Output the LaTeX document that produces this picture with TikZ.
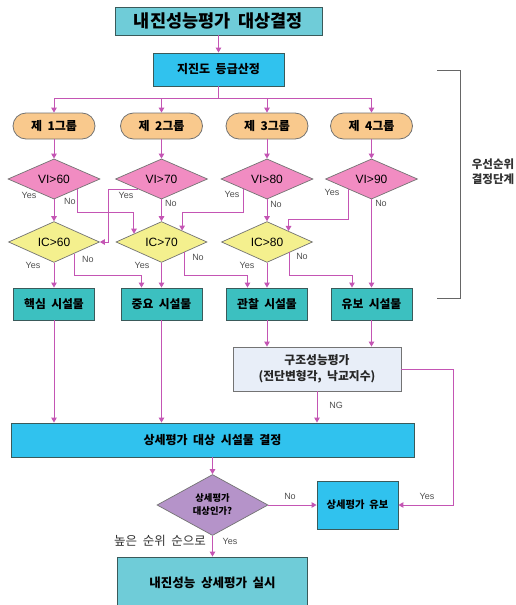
\documentclass[tikz,border=0pt]{standalone}
\usepackage{fontspec}
\setmainfont{Noto Sans CJK KR}
\newfontfamily\latin{Liberation Sans}
\usetikzlibrary{shapes.geometric,arrows.meta,calc}
\definecolor{lnk}{HTML}{C455B4}
\definecolor{teal1}{HTML}{3CC0C0}
\definecolor{teal2}{HTML}{6FCCD8}
\definecolor{sky}{HTML}{30C2EE}
\definecolor{orng}{HTML}{F9C98D}
\definecolor{pnk}{HTML}{F18CC2}
\definecolor{ylw}{HTML}{F4F08E}
\definecolor{prp}{HTML}{B593C9}
\definecolor{lgt}{HTML}{E8EEF8}
\definecolor{bord}{HTML}{3A5A5A}
\definecolor{lblc}{HTML}{505050}
\tikzset{
  box/.style={draw=bord,line width=0.9pt,inner sep=0pt,align=center,font=\bfseries},
  tealbox/.style={box,fill=teal1,minimum width=81pt,minimum height=32pt,font=\bfseries\fontsize{11.8}{13}\selectfont},
  grp/.style={draw=black!55,line width=0.8pt,fill=orng,rounded corners=13pt,minimum width=82pt,minimum height=26pt,inner sep=0pt,font=\bfseries\fontsize{12}{13}\selectfont},
  dia/.style={diamond,draw=black!55,line width=0.7pt,inner sep=0pt,font=\latin\fontsize{12}{14}\selectfont},
  vid/.style={dia,fill=pnk,minimum width=92pt,minimum height=38pt},
  icd/.style={dia,fill=ylw,minimum width=91pt,minimum height=39pt},
  arr/.style={draw=lnk,line width=1pt,-{Triangle[width=5.5pt,length=5pt]}},
  lbl/.style={text=lblc,font=\latin\fontsize{9}{10}\selectfont,inner sep=0pt},
}
\begin{document}
\begin{tikzpicture}[x=1pt,y=-1pt]
\useasboundingbox (0,0) rectangle (516,605);
\fill[white] (0,0) rectangle (516,605);
% top
\node[box,fill=teal2,minimum width=207pt,minimum height=28pt,font=\bfseries\fontsize{17.5}{19}\selectfont] (top) at (218.5,21) {내진성능평가~~대상결정};
\node[box,fill=sky,minimum width=131pt,minimum height=33pt,font=\bfseries\fontsize{12}{14}\selectfont] (grade) at (218.5,69.5) {지진도~~등급산정};
\draw[arr] (top.south) -- (grade.north);
% groups
\node[grp] (g1) at (54,126) {제~~1그룹};
\node[grp] (g2) at (161.5,126) {제~~2그룹};
\node[grp] (g3) at (267,126) {제~~3그룹};
\node[grp] (g4) at (371.5,126) {제~~4그룹};
\coordinate (bus) at (218.5,98);
\foreach \g in {g1,g2,g3,g4}{\draw[arr] (grade.south) -- (bus) -| (\g.north);}
% VI diamonds
\node[vid] (v1) at (54,179) {VI>60};
\node[vid] (v2) at (161.5,179) {VI>70};
\node[vid] (v3) at (267,179) {VI>80};
\node[vid] (v4) at (371.5,179) {VI>90};
\foreach \i in {1,2,3,4}{\draw[arr] (g\i.south) -- (v\i.north);}
% IC diamonds
\node[icd] (c1) at (54,242) {IC>60};
\node[icd] (c2) at (161.5,242) {IC>70};
\node[icd] (c3) at (267,242) {IC>80};
% facilities
\node[tealbox] (f1) at (54,304) {핵심~~시설물};
\node[tealbox] (f2) at (161.5,304) {중요~~시설물};
\node[tealbox] (f3) at (267,304) {관찰~~시설물};
\node[tealbox] (f4) at (371.5,304) {유보~~시설물};
\coordinate (r1) at (0,212);
\coordinate (r2) at (0,219);
\coordinate (r3) at (0,275);
% VI connectors
\draw[arr] (v1.south) -- (c1.north);
\coordinate (a1) at ($(v1.east)!0.5!(v1.south)$);
\draw[arr] (a1) -- (a1 |- r1) -| ($(c2.west)!0.4!(c2.north)$);
\coordinate (a2) at ($(v2.west)!0.5!(v2.south)$);
\draw[arr] (a2) -| ($(c1.east)+(9,0)$) -- (c1.east);
\draw[arr] (v2.south) -- (c2.north);
\coordinate (a3) at ($(v3.west)!0.5!(v3.south)$);
\draw[arr] (a3) -- (a3 |- r1) -| ($(c2.north)!0.45!(c2.east)$);
\draw[arr] (v3.south) -- (c3.north);
\coordinate (a4) at ($(v4.west)!0.5!(v4.south)$);
\draw[arr] (a4) -- (a4 |- r2) -| ($(c3.north)!0.47!(c3.east)$);
\draw[arr] (v4.south) -- (f4.north);
% IC connectors
\draw[arr] (c1.south) -- (f1.north);
\coordinate (b1) at ($(c1.east)!0.56!(c1.south)$);
\draw[arr] (b1) -- (b1 |- r3) -| ($(f2.north)+(-20,0)$);
\draw[arr] (c2.south) -- (f2.north);
\coordinate (b2) at ($(c2.east)!0.5!(c2.south)$);
\draw[arr] (b2) -- (b2 |- r3) -| ($(f3.north)+(-19.5,0)$);
\draw[arr] (c3.south) -- (f3.north);
\coordinate (b3) at ($(c3.east)!0.5!(c3.south)$);
\draw[arr] (b3) -- (b3 |- r3) -| ($(f4.north)+(-19.5,0)$);
% labels
\node[lbl] at (29,195) {Yes};
\node[lbl] at (70,201) {No};
\node[lbl] at (126,195) {Yes};
\node[lbl] at (171,203) {No};
\node[lbl] at (232,194) {Yes};
\node[lbl] at (276,204) {No};
\node[lbl] at (332,192) {Yes};
\node[lbl] at (381,203) {No};
\node[lbl] at (33,265) {Yes};
\node[lbl] at (88,259) {No};
\node[lbl] at (142,265) {Yes};
\node[lbl] at (198,257) {No};
\node[lbl] at (247,265) {Yes};
\node[lbl] at (302,256) {No};
% bracket
\draw[black!60,line width=0.9pt] (437,70) -- (460,70) -- (460,298) -- (437,298);
\node[align=center,font=\bfseries\fontsize{11.5}{15}\selectfont,text=black!80] (prio) at (493,172) {우선순위\\결정단계};
% lower part
\node[box,fill=lgt,draw=black!55,minimum width=168pt,minimum height=44pt,font=\bfseries\fontsize{11.8}{16}\selectfont,text=black!85] (st) at (317,369) {구조성능평가\\(전단변형각,~~낙교지수)};
\node[box,fill=sky,minimum width=403pt,minimum height=34pt,font=\bfseries\fontsize{12}{14}\selectfont] (big) at (212.5,440) {상세평가~~대상~~시설물~~결정};
\draw[arr] (f1.south) -- (f1.south |- big.north);
\draw[arr] (f2.south) -- (f2.south |- big.north);
\draw[arr] (f3.south) -- (f3.south |- st.north);
\draw[arr] (f4.south) -- (f4.south |- st.north);
\draw[arr] (st.south) -- (st.south |- big.north);
\node[lbl] at (336,405) {NG};
\node[dia,fill=prp,minimum width=111pt,minimum height=49pt,align=center,font=\bfseries\fontsize{9.3}{13}\selectfont] (q) at (212.5,505) {상세평가\\대상인가?};
\node[box,fill=sky,minimum width=81pt,minimum height=48pt,font=\bfseries\fontsize{10.3}{12}\selectfont] (hold) at (357.5,505) {상세평가~~유보};
\node[box,fill=teal2,minimum width=190pt,minimum height=52pt,font=\bfseries\fontsize{12.5}{14}\selectfont] (fin) at (212.5,583) {내진성능~~상세평가~~실시};
\draw[arr] (big.south) -- (q.north);
\draw[arr] (q.east) -- (hold.west);
\draw[arr] (q.south) -- (fin.north);
\coordinate (rr) at (453,0);
\draw[arr] (st.east) -- (st.east -| rr) |- (hold.east);
\node[lbl] at (290,496) {No};
\node[lbl] at (427,496) {Yes};
\node[lbl] at (230,541) {Yes};
\node[font=\fontsize{12.5}{14}\selectfont,text=black!80,inner sep=0pt] at (160,541) {높은~~순위~~순으로};
\end{tikzpicture}
\end{document}
